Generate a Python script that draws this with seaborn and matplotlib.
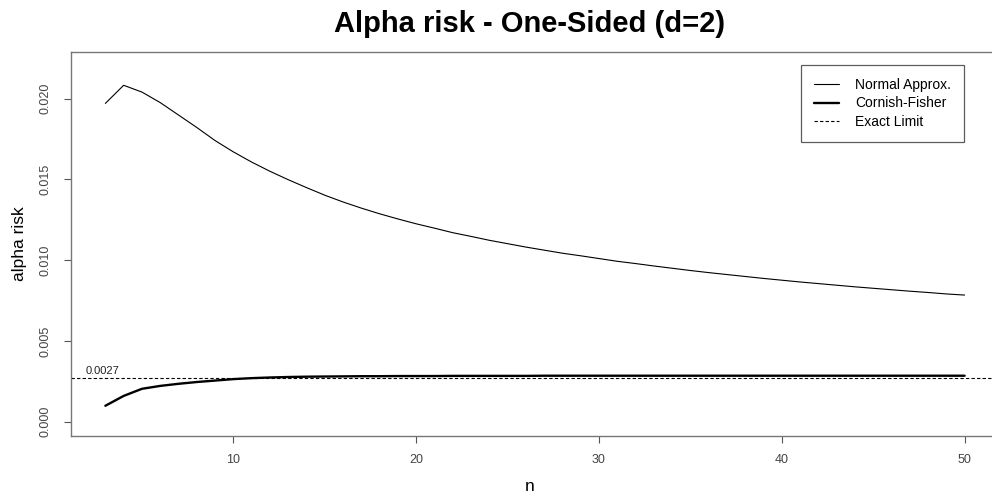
import numpy as np
import pandas as pd
import matplotlib
matplotlib.use("Agg")
import matplotlib.pyplot as plt
import seaborn as sns

# sample size n
n_values = list(range(3, 51))

# alpha risk, normal approximation
normal_approx = [
    0.01970, 0.02082, 0.02040, 0.01975, 0.01898, 0.01821, 0.01740, 0.01670,
    0.01607, 0.01550, 0.01498, 0.01449, 0.01402, 0.01360, 0.01322, 0.01287,
    0.01255, 0.01225, 0.01198, 0.01170, 0.01147, 0.01123, 0.01102, 0.01081,
    0.01062, 0.01043, 0.01027, 0.01010, 0.00993, 0.00979, 0.00964, 0.00950,
    0.00936, 0.00923, 0.00911, 0.00899, 0.00887, 0.00876, 0.00865, 0.00855,
    0.00845, 0.00835, 0.00826, 0.00817, 0.00808, 0.00800, 0.00791, 0.00784,
]

# alpha risk, Cornish-Fisher expansion
cornish_fisher = [
    0.00099, 0.00160, 0.00204, 0.00222, 0.00235, 0.00246, 0.00255, 0.00264,
    0.00270, 0.00274, 0.00277, 0.00279, 0.00280, 0.00281, 0.00282, 0.00282,
    0.00283, 0.00283, 0.00283, 0.00284, 0.00284, 0.00284, 0.00284, 0.00284,
    0.00285, 0.00285, 0.00285, 0.00285, 0.00285, 0.00285, 0.00285, 0.00285,
    0.00285, 0.00285, 0.00285, 0.00285, 0.00285, 0.00285, 0.00285, 0.00285,
    0.00285, 0.00285, 0.00285, 0.00285, 0.00285, 0.00285, 0.00285, 0.00285,
]

exact_limit = 0.0027

x_ticks = [10, 20, 30, 40, 50]
y_ticks = [0.000, 0.005, 0.010, 0.015, 0.020]

sns.set_style("white")
plt.rcParams["font.family"] = ["Liberation Sans", "DejaVu Sans"]

df = pd.DataFrame({"n": n_values, "normal": normal_approx, "cf": cornish_fisher})

fig = plt.figure(figsize=(9.92, 5.0), dpi=100)
ax = fig.add_axes([71 / 992, 64 / 500, 928 / 992, 384 / 500])

sns.lineplot(data=df, x="n", y="normal", ax=ax, color="black", linewidth=0.8)
sns.lineplot(data=df, x="n", y="cf", ax=ax, color="black", linewidth=1.7)
ax.axhline(exact_limit, color="black", linestyle=(0, (3, 2)), linewidth=0.8)
ax.text(1.9, exact_limit + 0.00012, "0.0027", fontsize=8, color="#222222",
        ha="left", va="bottom")

ax.set_xlim(1.12, 51.88)
ax.set_ylim(-0.00088, 0.02288)
ax.set_xticks(x_ticks)
ax.set_yticks(y_ticks)
ax.set_xticklabels([str(t) for t in x_ticks])
ax.set_yticklabels([f"{t:.3f}" for t in y_ticks], rotation=90, va="center")
ax.tick_params(axis="both", direction="out", length=5, width=0.8,
               color="#555555", labelcolor="#444444", labelsize=9,
               bottom=True, left=True)
ax.tick_params(axis="x", pad=8)
ax.tick_params(axis="y", pad=9)

for side in ["left", "top", "bottom", "right"]:
    ax.spines[side].set_color("#777777")
    ax.spines[side].set_linewidth(1.0)

ax.set_xlabel("n", fontsize=12.5, color="black")
ax.set_ylabel("alpha risk", fontsize=12.5, color="black")
ax.xaxis.set_label_coords((530 - 71) / 928, -0.112)
ax.yaxis.set_label_coords(-0.047, 0.5)

fig.text(530 / 992, 1 - 24 / 500, "Alpha risk - One-Sided (d=2)",
         fontsize=21, fontweight="bold", ha="center", va="center",
         color="black")

handles = [
    plt.Line2D([], [], color="black", linewidth=0.8),
    plt.Line2D([], [], color="black", linewidth=1.7),
    plt.Line2D([], [], color="black", linewidth=0.8, linestyle=(0, (3, 2))),
]
labels = ["Normal Approx.", "Cornish-Fisher", "Exact Limit"]
leg = ax.legend(handles, labels, loc="upper left",
                bbox_to_anchor=(801 / 992, 1 - 65 / 500),
                bbox_transform=fig.transFigure, fontsize=10, frameon=True,
                fancybox=False, handlelength=1.8, handletextpad=1.15,
                labelspacing=0.3, borderpad=0.95, borderaxespad=0)
leg.get_frame().set_edgecolor("#333333")
leg.get_frame().set_linewidth(0.9)
for t in leg.get_texts():
    t.set_color("black")

fig.savefig("out.png", dpi=100)
